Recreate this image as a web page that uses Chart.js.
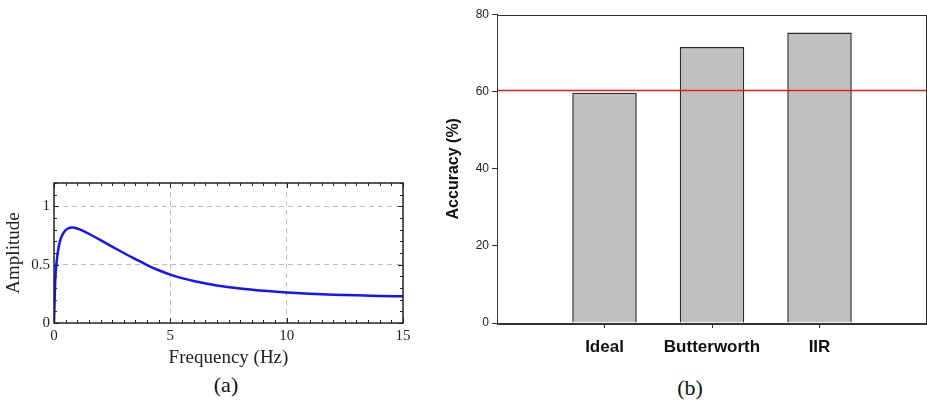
<!DOCTYPE html>
<html>
<head>
<meta charset="utf-8">
<script src="https://cdn.jsdelivr.net/npm/chart.js@4/dist/chart.umd.min.js"></script>
<style>
  html, body { margin: 0; padding: 0; background: #fff; }
  body { width: 927px; height: 402px; position: relative; overflow: hidden; }
  .box { position: absolute; }
  .cap { position: absolute; font-family: 'Liberation Serif', serif; font-size: 22px; color: #111; transform: translateX(-50%); }
</style>
</head>
<body>
<div class="box" style="left:0;top:175px;width:410px;height:195px"><canvas id="viz1" width="410" height="195"></canvas></div>
<div class="box" style="left:430px;top:0;width:497px;height:365px"><canvas id="viz2" width="497" height="365"></canvas></div>
<div class="cap" style="left:226px;top:372px">(a)</div>
<div class="cap" style="left:690px;top:375px">(b)</div>
<script>
// (a) respuesta en frecuencia
const freq = [0, 0.05, 0.1, 0.2, 0.3, 0.45, 0.6, 0.8, 1.0, 1.25, 1.5, 2, 2.5, 3, 3.5, 4, 4.5, 5, 5.5, 6, 7, 8, 9, 10, 11, 12, 13, 14, 15];
const amplitude = [0, 0.35, 0.5, 0.65, 0.73, 0.785, 0.81, 0.818, 0.81, 0.79, 0.765, 0.71, 0.655, 0.6, 0.548, 0.497, 0.452, 0.415, 0.385, 0.36, 0.322, 0.295, 0.276, 0.262, 0.251, 0.243, 0.237, 0.232, 0.229];

// (b) precision por filtro
const filters = ['Ideal', 'Butterworth', 'IIR'];
const accuracy = [59.7, 71.6, 75.3];
const baseline = 60.3;

const serif = 'Liberation Serif';
const sans = 'Liberation Sans';

// quita el relleno extra que Chart.js deja para las etiquetas de los extremos
function noPad(s) {
    s.paddingLeft = 0; s.paddingRight = 0; s.paddingTop = 0; s.paddingBottom = 0;
}

// marco y marcas interiores estilo Mathematica
const frameA = {
    id: 'frameA',
    afterDraw(chart) {
        const c = chart.ctx, a = chart.chartArea;
        const sx = chart.scales.x, sy = chart.scales.y;
        c.save();
        c.strokeStyle = '#222';
        c.lineWidth = 1;
        for (let i = 0; i <= 30; i++) {
            const px = Math.round(sx.getPixelForValue(i / 2)) + 0.5;
            const len = (i % 10 === 0) ? 5 : 3;
            c.beginPath();
            c.moveTo(px, a.bottom); c.lineTo(px, a.bottom - len);
            c.moveTo(px, a.top); c.lineTo(px, a.top + len);
            c.stroke();
        }
        for (let i = 0; i <= 12; i++) {
            const py = Math.round(sy.getPixelForValue(i / 10)) + 0.5;
            const len = (i % 5 === 0) ? 5 : 3;
            c.beginPath();
            c.moveTo(a.left, py); c.lineTo(a.left + len, py);
            c.moveTo(a.right, py); c.lineTo(a.right - len, py);
            c.stroke();
        }
        c.lineWidth = 1.5;
        c.strokeRect(a.left, a.top, a.right - a.left, a.bottom - a.top);
        c.restore();
    }
};

const frameB = {
    id: 'frameB',
    afterDraw(chart) {
        const c = chart.ctx, a = chart.chartArea;
        c.save();
        c.strokeStyle = '#333';
        c.lineWidth = 1;
        c.strokeRect(Math.round(a.left) + 0.5, Math.round(a.top) + 0.5, Math.round(a.right - a.left) - 1, Math.round(a.bottom - a.top));
        c.restore();
    }
};

document.addEventListener('DOMContentLoaded', function() {
    const ctx1 = document.getElementById('viz1').getContext('2d');
    new Chart(ctx1, {
        type: 'line',
        data: {
            datasets: [{
                data: freq.map((f, i) => ({ x: f, y: amplitude[i] })),
                borderColor: '#1414ff',
                borderWidth: 2.5,
                pointRadius: 0,
                cubicInterpolationMode: 'monotone',
                fill: false
            }]
        },
        options: {
            responsive: false,
            animation: false,
            layout: { padding: { top: 8, right: 7, left: 0, bottom: 0 } },
            plugins: { legend: { display: false }, tooltip: { enabled: false } },
            scales: {
                x: {
                    type: 'linear', min: 0, max: 15,
                    afterFit: s => { s.height = 47; noPad(s); },
                    ticks: { stepSize: 5, padding: 4, color: '#222', font: { family: serif, size: 15 } },
                    grid: {
                        drawTicks: false,
                        color: ctx => (ctx.tick && ctx.tick.value > 0 && ctx.tick.value < 15) ? '#bdbdbd' : 'rgba(0,0,0,0)',
                        lineWidth: 1
                    },
                    border: { display: false, dash: [5, 4] },
                    title: { display: true, text: 'Frequency (Hz)', color: '#222', padding: { top: 0, bottom: 1 }, font: { family: serif, size: 19 } }
                },
                y: {
                    type: 'linear', min: 0, max: 1.2,
                    afterFit: s => { s.width = 54; noPad(s); },
                    afterBuildTicks: s => { s.ticks = s.ticks.filter(t => t.value <= 1.0001); },
                    ticks: { stepSize: 0.5, padding: 4, color: '#222', font: { family: serif, size: 15 }, callback: v => String(v) },
                    grid: {
                        drawTicks: false,
                        color: ctx => (ctx.tick && ctx.tick.value > 0) ? '#bdbdbd' : 'rgba(0,0,0,0)',
                        lineWidth: 1
                    },
                    border: { display: false, dash: [5, 4] },
                    title: { display: true, text: 'Amplitude', color: '#222', padding: { top: 3, bottom: 0 }, font: { family: serif, size: 19 } }
                }
            }
        },
        plugins: [frameA]
    });

    // Visualizacion 2: barras con linea de referencia
    const labels2 = [''].concat(filters, ['']);
    const ctx2 = document.getElementById('viz2').getContext('2d');
    new Chart(ctx2, {
        data: {
            labels: labels2,
            datasets: [{
                type: 'line',
                data: labels2.map(() => baseline),
                borderColor: '#f01818',
                borderWidth: 1.5,
                pointRadius: 0,
                order: 0
            }, {
                type: 'bar',
                data: [null].concat(accuracy, [null]),
                backgroundColor: '#c0c0c0',
                borderColor: '#2a2a2a',
                borderWidth: 1.5,
                barPercentage: 0.6,
                categoryPercentage: 1,
                order: 1
            }]
        },
        options: {
            responsive: false,
            animation: false,
            layout: { padding: { top: 14.5, right: 0, left: 0, bottom: 0 } },
            plugins: { legend: { display: false }, tooltip: { enabled: false } },
            scales: {
                x: {
                    type: 'category',
                    offset: false,
                    afterFit: s => { s.height = 42; noPad(s); },
                    ticks: { padding: 9, color: '#111', autoSkip: false, maxRotation: 0, font: { family: sans, size: 17, weight: 'bold' } },
                    grid: {
                        offset: false,
                        drawOnChartArea: false,
                        tickLength: 5,
                        tickColor: ctx => (ctx.index > 0 && ctx.index < labels2.length - 1) ? '#333' : 'rgba(0,0,0,0)'
                    },
                    border: { color: '#333' }
                },
                y: {
                    min: 0, max: 80,
                    afterFit: s => { s.width = 67; noPad(s); },
                    ticks: { stepSize: 20, padding: 3, color: '#222', font: { family: sans, size: 12 } },
                    grid: { drawOnChartArea: false, tickLength: 5, tickColor: '#333' },
                    border: { color: '#333' },
                    title: { display: true, text: 'Accuracy (%)', color: '#111', padding: { top: 14, bottom: 0 }, font: { family: sans, size: 16, weight: 'bold' } }
                }
            }
        },
        plugins: [frameB]
    });
});
</script>
</body>
</html>
